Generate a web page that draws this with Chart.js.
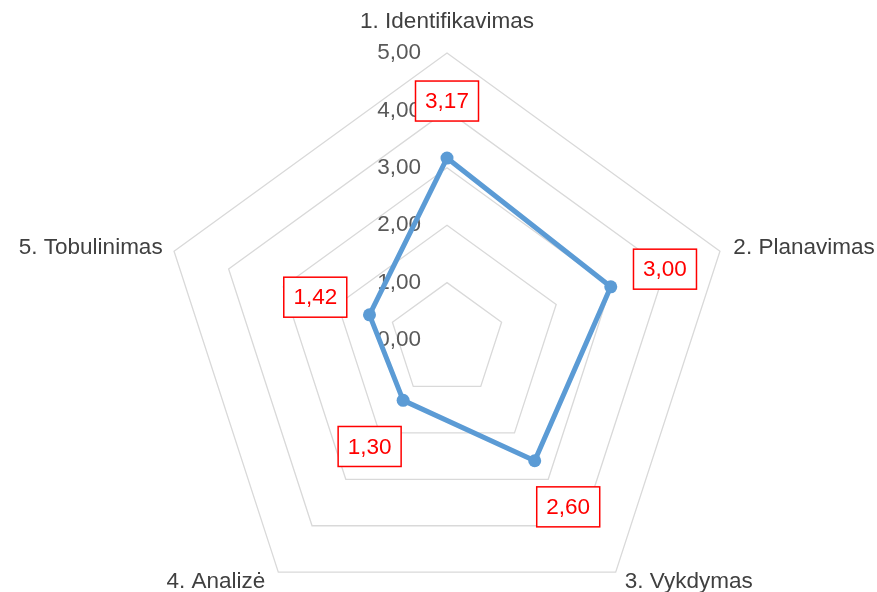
<!DOCTYPE html>
<html>
<head>
<meta charset="utf-8">
<script src="https://cdn.jsdelivr.net/npm/chart.js@4/dist/chart.umd.min.js"></script>
<style>
  html, body { margin: 0; padding: 0; background: #fff; overflow: hidden; }
  .frame { width: 877px; height: 592px; overflow: hidden; position: relative; }
  .canvas { width: 877px; height: 700px; position: relative; }
</style>
</head>
<body>
<div class="frame">
  <div class="canvas"><canvas id="cv"></canvas></div>
</div>
<script>
const categories = ['1. Identifikavimas', '2. Planavimas', '3. Vykdymas', '4. Analizė', '5. Tobulinimas'];
const values = [3.17, 3.00, 2.60, 1.30, 1.42];
const valueLabels = ['3,17', '3,00', '2,60', '1,30', '1,42'];
const tickValues = [0, 1, 2, 3, 4, 5];
const tickLabels = ['0,00', '1,00', '2,00', '3,00', '4,00', '5,00'];

const FONT = '"Liberation Sans", Arial, sans-serif';

// tick labels sit left of the vertical axis, right aligned
const tickPlugin = {
  id: 'tickText',
  beforeDatasetsDraw(chart) {
    const scale = chart.scales.r;
    const ctx = chart.ctx;
    ctx.save();
    ctx.font = '22.5px ' + FONT;
    ctx.fillStyle = '#595959';
    ctx.textAlign = 'right';
    ctx.textBaseline = 'middle';
    tickValues.forEach((v, i) => {
      const y = scale.yCenter - scale.getDistanceFromCenterForValue(v);
      ctx.fillText(tickLabels[i], scale.xCenter - 26, y);
    });
    ctx.restore();
  }
};

const labelPlugin = {
  id: 'pointText',
  afterDatasetsDraw(chart) {
    const scale = chart.scales.r;
    const ctx = chart.ctx;
    ctx.save();
    // category names
    ctx.font = '22.5px ' + FONT;
    ctx.fillStyle = '#404040';
    ctx.textBaseline = 'middle';
    categories.forEach((c, i) => {
      const p = scale.getPointPosition(i, scale.drawingArea + 12);
      if (i === 0) {
        ctx.textAlign = 'center';
        ctx.fillText(c, p.x, p.y - 19);
      } else if (i === 1 || i === 2) {
        ctx.textAlign = 'left';
        ctx.fillText(c, p.x + 2, p.y);
      } else {
        ctx.textAlign = 'right';
        ctx.fillText(c, p.x - (i === 3 ? 6 : 0), p.y);
      }
    });
    // boxed value labels
    ctx.textAlign = 'center';
    values.forEach((v, i) => {
      const p = scale.getPointPosition(i, scale.getDistanceFromCenterForValue(v) + 57);
      const w = 63, h = 40;
      ctx.fillStyle = '#fff';
      ctx.fillRect(p.x - w / 2, p.y - h / 2, w, h);
      ctx.strokeStyle = '#FF0000';
      ctx.lineWidth = 1.5;
      ctx.strokeRect(p.x - w / 2, p.y - h / 2, w, h);
      ctx.fillStyle = '#FF0000';
      ctx.fillText(valueLabels[i], p.x, p.y + 1);
    });
    ctx.restore();
  }
};

new Chart(document.getElementById('cv'), {
  type: 'radar',
  data: {
    labels: categories,
    datasets: [{
      data: values,
      fill: false,
      tension: 0,
      borderColor: '#5B9BD5',
      borderWidth: 5,
      borderJoinStyle: 'round',
      pointRadius: 6.5,
      pointBackgroundColor: '#5B9BD5',
      pointBorderWidth: 0
    }]
  },
  options: {
    responsive: true,
    maintainAspectRatio: false,
    animation: false,
    layout: { padding: { left: 160, right: 143, top: 53, bottom: 73 } },
    plugins: {
      legend: { display: false },
      tooltip: { enabled: false }
    },
    scales: {
      r: {
        min: 0,
        max: 5,
        ticks: { stepSize: 1, display: false },
        grid: { color: '#D9D9D9', lineWidth: 1.3 },
        angleLines: { display: false },
        pointLabels: { display: false }
      }
    }
  },
  plugins: [tickPlugin, labelPlugin]
});
</script>
</body>
</html>
